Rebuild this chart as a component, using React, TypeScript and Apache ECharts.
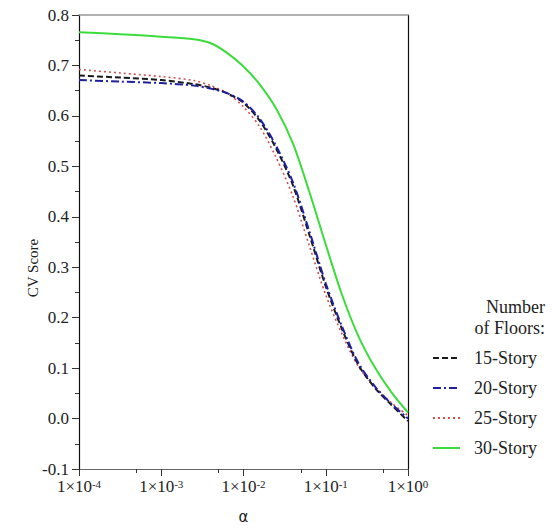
import React, { useEffect, useRef } from "react";
import * as echarts from "echarts";

const alpha = [1e-4, 3.16e-4, 1e-3, 2.5e-3, 4e-3, 6.3e-3, 1e-2, 1.58e-2, 2.5e-2, 4e-2, 6.3e-2, 0.1, 0.158, 0.25, 0.4, 0.63, 1];
const story15 = [0.68, 0.676, 0.671, 0.663, 0.656, 0.645, 0.626, 0.59, 0.535, 0.462, 0.365, 0.262, 0.177, 0.106, 0.06, 0.027, -0.005];
const story20 = [0.671, 0.668, 0.665, 0.66, 0.654, 0.645, 0.628, 0.594, 0.54, 0.468, 0.372, 0.268, 0.182, 0.11, 0.063, 0.029, 0.0];
const story25 = [0.692, 0.685, 0.678, 0.67, 0.66, 0.645, 0.618, 0.578, 0.517, 0.44, 0.343, 0.245, 0.167, 0.103, 0.062, 0.031, 0.006];
const story30 = [0.766, 0.762, 0.757, 0.752, 0.744, 0.725, 0.698, 0.662, 0.614, 0.545, 0.45, 0.345, 0.245, 0.163, 0.1, 0.052, 0.012];
const seriesNames = ["15-Story", "20-Story", "25-Story", "30-Story"];
const minorTickValues = [5e-4, 5e-3, 5e-2, 5e-1];
const yTicks = { min: -0.1, max: 0.8, interval: 0.1 };

const serif = "'Liberation Serif', 'Times New Roman', serif";

export default function App() {
  const ref = useRef<HTMLDivElement>(null);
  useEffect(() => {
    document.body.style.margin = "0";
    const chart = echarts.init(ref.current!, null, { renderer: "svg" });
    const pair = (ys: number[]) => alpha.map((a, i) => [a, ys[i]]);
    const xBase = {
      type: "log",
      logBase: 10,
      min: 1e-4,
      max: 1,
      splitLine: { show: false },
    };
    chart.setOption({
      animation: false,
      backgroundColor: "#fff",
      grid: { left: 79, right: 145, top: 15, bottom: 57, containLabel: false },
      xAxis: [
        {
          ...xBase,
          position: "bottom",
          name: "α",
          nameLocation: "middle",
          nameGap: 40,
          nameTextStyle: { fontFamily: "'DejaVu Sans', sans-serif", fontSize: 15, color: "#222" },
          axisLine: { onZero: false, lineStyle: { color: "#666", width: 1.2 } },
          axisTick: { show: true, inside: false, length: 7, lineStyle: { color: "#333" } },
          minorTick: { show: false },
          axisLabel: {
            margin: 9,
            formatter: (v: number) => `{b|1×10}{s|${Math.round(Math.log10(v))}}`,
            rich: {
              b: { fontFamily: serif, fontSize: 17, color: "#222" },
              s: { fontFamily: serif, fontSize: 11, color: "#222", verticalAlign: "top", lineHeight: 11 },
            },
          },
        },
        {
          ...xBase,
          position: "top",
          axisLine: { show: true, onZero: false, lineStyle: { color: "#999", width: 1.5 } },
          axisTick: { show: false },
          axisLabel: { show: false },
        },
        {
          ...xBase,
          position: "bottom",
          axisLine: { show: false, onZero: false },
          axisTick: { show: true, length: 4, customValues: minorTickValues, lineStyle: { color: "#333" } },
          axisLabel: { show: false },
        },
      ],
      yAxis: [
        {
          type: "value",
          ...yTicks,
          position: "left",
          axisLine: { show: true, onZero: false, lineStyle: { color: "#111", width: 1.2 } },
          axisTick: { show: true, length: 7, lineStyle: { color: "#333" } },
          minorTick: { show: true, splitNumber: 2, length: 4, lineStyle: { color: "#333" } },
          splitLine: { show: false },
          axisLabel: {
            margin: 10,
            fontFamily: serif,
            fontSize: 17,
            color: "#222",
            formatter: (v: number) => v.toFixed(1),
          },
        },
        {
          type: "value",
          ...yTicks,
          position: "right",
          axisLine: { show: true, onZero: false, lineStyle: { color: "#111", width: 1.2 } },
          axisTick: { show: false },
          axisLabel: { show: false },
          splitLine: { show: false },
        },
      ],
      legend: {
        orient: "vertical",
        left: 427,
        top: 344,
        align: "left",
        itemWidth: 27,
        itemHeight: 14,
        itemGap: 12,
        padding: 5,
        itemStyle: { opacity: 0 },
        textStyle: { fontFamily: serif, fontSize: 18, color: "#222", lineHeight: 18, padding: [0, 0, 0, 9] },
        data: seriesNames,
      },
      graphic: [
        {
          type: "text",
          x: 545,
          y: 307,
          style: { text: "Number", fontFamily: serif, fontSize: 18, fill: "#222", textAlign: "right", textVerticalAlign: "middle" },
        },
        {
          type: "text",
          x: 545,
          y: 328,
          style: { text: "of Floors:", fontFamily: serif, fontSize: 18, fill: "#222", textAlign: "right", textVerticalAlign: "middle" },
        },
        {
          type: "text",
          x: 33,
          y: 268,
          rotation: Math.PI / 2,
          style: { text: "CV Score", fontFamily: serif, fontSize: 15, fill: "#222", textAlign: "center", textVerticalAlign: "middle" },
        },
      ],
      series: [
        {
          name: seriesNames[0],
          type: "line",
          data: pair(story15),
          smooth: 0.3,
          symbol: "none",
          lineStyle: { color: "#1a1a1a", width: 2, type: [6, 3] },
          itemStyle: { color: "#1a1a1a" },
          z: 3,
        },
        {
          name: seriesNames[1],
          type: "line",
          data: pair(story20),
          smooth: 0.3,
          symbol: "none",
          lineStyle: { color: "#2020a0", width: 2, type: [8, 3, 2, 3] },
          itemStyle: { color: "#2020a0" },
          z: 4,
        },
        {
          name: seriesNames[2],
          type: "line",
          data: pair(story25),
          smooth: 0.3,
          symbol: "none",
          lineStyle: { color: "#d05050", width: 1.6, type: [2, 3] },
          itemStyle: { color: "#d05050" },
          z: 2,
        },
        {
          name: seriesNames[3],
          type: "line",
          data: pair(story30),
          smooth: 0.3,
          symbol: "none",
          lineStyle: { color: "#3ddc3d", width: 2 },
          itemStyle: { color: "#3ddc3d" },
          z: 1,
        },
      ],
    });
    return () => chart.dispose();
  }, []);
  return <div ref={ref} style={{ position: "fixed", left: 0, top: 0, width: 553, height: 529 }} />;
}
